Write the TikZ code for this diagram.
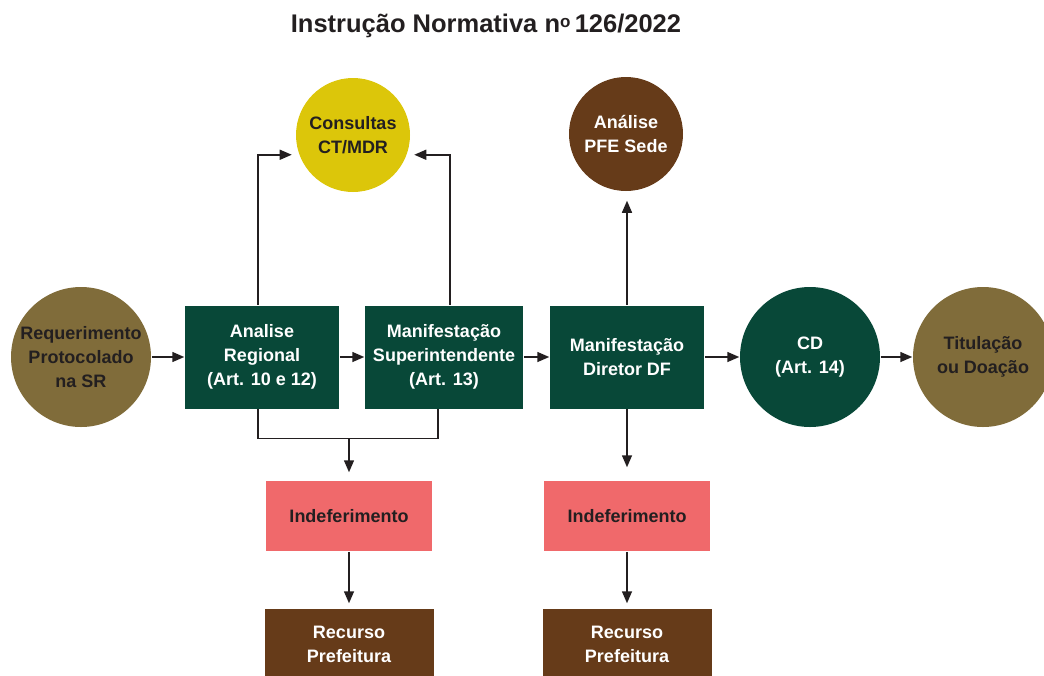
\documentclass[tikz,border=0pt]{standalone}
\usepackage{fontspec}
\setsansfont{Liberation Sans}
\usetikzlibrary{arrows.meta}
\definecolor{khaki}{HTML}{806C3A}
\definecolor{pine}{HTML}{084838}
\definecolor{mustard}{HTML}{DCC60A}
\definecolor{bark}{HTML}{663B19}
\definecolor{salmon}{HTML}{F0696B}
\definecolor{ink}{HTML}{231F20}

\begin{document}
\begin{tikzpicture}[x=1pt, y=-1pt, line width=1.5pt,
  txt/.style={font=\sffamily\bfseries\fontsize{18}{24}\selectfont, align=center, inner sep=0pt},
  disc/.style={circle, txt, minimum size=140pt},
  box/.style={rectangle, txt, fill=pine, text=white, minimum width=154pt, minimum height=103pt},
  flat/.style={rectangle, txt, minimum width=166pt, minimum height=70pt},
  arr/.style={draw=ink, -{Triangle[length=12pt, width=10pt]}}]
  \useasboundingbox (0,0) rectangle (1044,675);
  \node[font=\sffamily\bfseries\fontsize{25.5}{30}\selectfont, text=ink, anchor=base] (title) at (486,32)
    {Instrução Normativa n\raisebox{5pt}{\fontsize{17}{17}\selectfont o}\,126/2022};

  \node[disc, fill=khaki, text=ink] (req) at (81,357) {Requerimento\\Protocolado\\na SR};
  \node[box] (ana) at (262,357) {Analise\\Regional\\(Art. 10 e 12)};
  \node[box, minimum width=158pt] (sup) at (444,357) {Manifestação\\Superintendente\\(Art. 13)};
  \node[box] (dir) at (627,357) {Manifestação\\Diretor DF};
  \node[disc, fill=pine, text=white] (cd) at (810,357) {CD\\(Art. 14)};
  \node[disc, fill=khaki, text=ink] (tit) at (983,357) {Titulação\\ou Doação};

  \node[disc, minimum size=114pt, fill=mustard, text=ink] (cons) at (353,135) {Consultas\\CT/MDR};
  \node[disc, minimum size=114pt, fill=bark, text=white] (pfe) at (626,134) {Análise\\PFE Sede};

  \node[flat, fill=salmon, text=ink] (indl) at (349,516) {Indeferimento};
  \node[flat, fill=salmon, text=ink] (indr) at (627,516) {Indeferimento};
  \node[flat, fill=bark, text=white, minimum width=169pt] (recl) at (349,644) {Recurso\\Prefeitura};
  \node[flat, fill=bark, text=white, minimum width=169pt] (recr) at (627,644) {Recurso\\Prefeitura};

  \draw[arr] (req) -- (ana);
  \draw[arr] (ana) -- (sup);
  \draw[arr] (sup) -- (dir);
  \draw[arr] (dir) -- (cd);
  \draw[arr] (cd) -- (tit);

  \draw[arr, shorten >=7pt] ([xshift=-4pt]ana.north) |- (cons.200);
  \draw[arr, shorten >=7pt] ([xshift=6pt]sup.north) |- (cons.-20);
  \draw[arr, shorten >=9pt] (dir.north) -- (dir.north |- pfe.south);

  \draw[draw=ink] ([xshift=-4pt]ana.south) -- ++(0,29) coordinate (join) -| ([xshift=-6pt]sup.south);
  \draw[arr, shorten >=8pt] (join -| indl.north) -- (indl.north);
  \draw[arr, shorten >=13pt] (dir.south) -- (indr.north);
  \draw[arr, shorten >=5pt] (indl) -- (recl);
  \draw[arr, shorten >=5pt] (indr) -- (recr);
\end{tikzpicture}
\end{document}
